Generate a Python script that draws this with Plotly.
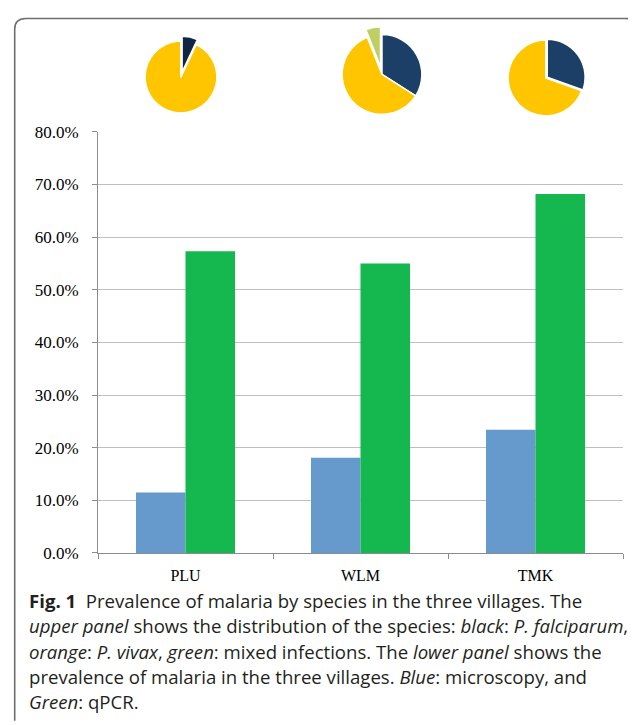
import plotly.graph_objects as go

# ---- data ----
villages = ["PLU", "WLM", "TMK"]
microscopy = [0.115, 0.181, 0.234]
qpcr = [0.573, 0.550, 0.682]

species = ["P. falciparum", "P. vivax", "Mixed"]
pie_plu = [7, 93, 0]
pie_wlm = [34, 60, 6]
pie_tmk = [30.5, 69.5, 0]

y_ticks = [0, 0.1, 0.2, 0.3, 0.4, 0.5, 0.6, 0.7, 0.8]

caption_lines = [
    "<b>Fig. 1</b>  Prevalence of malaria by species in the three villages. The",
    "<i>upper panel</i> shows the distribution of the species: <i>black</i>: <i>P. falciparum</i>,",
    "<i>orange</i>: <i>P. vivax</i>, <i>green</i>: mixed infections. The <i>lower panel</i> shows the",
    "prevalence of malaria in the three villages. <i>Blue</i>: microscopy, and",
    "<i>Green</i>: qPCR.",
]

# ---- geometry: convert target screen pixels to figure pixels ----
W, H = 636, 725


def tx(px):
    return px - 8


def ty(py):
    return py / 0.9867 - 16.55


L = tx(98)
R = W - tx(623)
T = 0.5
BOTTOM = ty(553.6)
B = H - BOTTOM
PW, PH = W - L - R, BOTTOM - T


def fx(px):
    return (tx(px) - L) / PW


def fy(py):
    return (BOTTOM - ty(py)) / PH


def fy_in(y_in):
    return (BOTTOM - y_in) / PH


def dom(cx, cy, half):
    return dict(x=[fx(cx - half), fx(cx + half)], y=[fy(cy + half), fy(cy - half)])


YELLOW = "#FFC600"
NAVY = "#1B3F66"
NAVY_DARK = "#0F2542"
OLIVE = "#BFCF63"

fig = go.Figure()
fig.add_trace(go.Bar(x=villages, y=microscopy, name="Microscopy",
                     marker=dict(color="#6699CC", line=dict(width=0))))
fig.add_trace(go.Bar(x=villages, y=qpcr, name="qPCR",
                     marker=dict(color="#14B84F", line=dict(width=0))))

pie_specs = [
    (pie_plu, [NAVY_DARK, YELLOW, OLIVE], [0.14, 0, 0], (181, 76, 36)),
    (pie_wlm, [NAVY, YELLOW, OLIVE], [0, 0, 0.2], (382, 73.5, 40)),
    (pie_tmk, [NAVY, YELLOW, OLIVE], [0.04, 0, 0], (546, 77, 38)),
]
for vals, cols, pull, (cx, cy, r) in pie_specs:
    fig.add_trace(go.Pie(
        labels=species, values=vals, sort=False, direction="clockwise",
        rotation=0, pull=pull, textinfo="none", hoverinfo="label+percent",
        marker=dict(colors=cols, line=dict(color="white", width=1.5)),
        domain=dom(cx, cy, r * (1 + max(pull))), showlegend=False,
    ))

serif = "Liberation Serif"
fig.update_layout(
    width=W, height=H,
    margin=dict(l=L, r=R, t=T, b=B, pad=0),
    paper_bgcolor="white", plot_bgcolor="white",
    barmode="group", bargap=0.434, bargroupgap=0,
    showlegend=False,
    xaxis=dict(showline=True, linecolor="#8C8C8C", linewidth=1,
               ticks="outside", tickson="boundaries", ticklen=5, tickcolor="#8C8C8C",
               ticklabelstandoff=8,
               tickfont=dict(family=serif, size=16, color="black"),
               showgrid=False, fixedrange=True),
    yaxis=dict(domain=[0, fy(131)], range=[0, 0.8], tickvals=y_ticks,
               tickformat=".1%", showline=True, linecolor="#8C8C8C", linewidth=1,
               ticks="outside", ticklen=5, tickcolor="#8C8C8C",
               ticklabelstandoff=10,
               showgrid=True, gridcolor="#BFBFBF", gridwidth=1,
               zeroline=False,
               tickfont=dict(family=serif, size=17, color="black"),
               fixedrange=True),
)

# caption
baselines = [607, 632, 657.5, 683, 708.5]
for txt, by in zip(caption_lines, baselines):
    fig.add_annotation(text=txt, xref="paper", yref="paper",
                       x=fx(27), y=fy(by + 9), xanchor="left", yanchor="bottom",
                       showarrow=False, align="left",
                       font=dict(family="Open Sans", size=18.6, color="#231F20"))

# frame border (top with rounded corners + left side)
bx, top_in, rad = 14.7, 1.0, 11
path = (f"M {fx(bx)} {fy(722)} L {fx(bx)} {fy_in(top_in + rad)} "
        f"Q {fx(bx)} {fy_in(top_in)} {fx(bx + rad)} {fy_in(top_in)} "
        f"L {fx(626)} {fy_in(top_in)} Q {fx(634)} {fy_in(top_in)} {fx(637)} {fy_in(top_in + 6)}")
fig.add_shape(type="path", path=path, xref="paper", yref="paper",
              line=dict(color="#6E6E6E", width=1.6))

fig.write_html("out.html")
